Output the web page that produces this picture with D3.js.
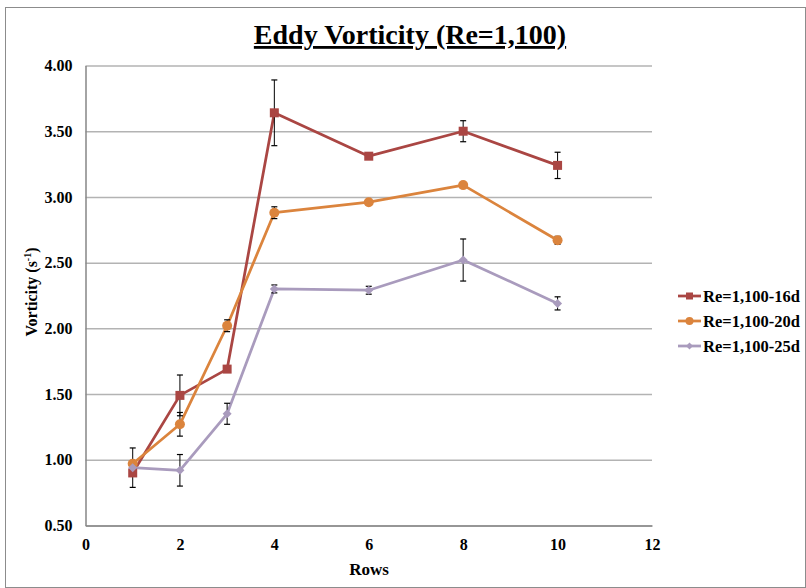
<!DOCTYPE html>
<html>
<head>
<meta charset="utf-8">
<script src="https://cdn.jsdelivr.net/npm/d3@7"></script>
<style>
  html, body { margin: 0; padding: 0; background: #fff; }
  svg { display: block; }
  text { font-family: "Liberation Serif", "Times New Roman", serif; font-weight: bold; fill: #000; }
</style>
</head>
<body>
<svg id="chart" width="806" height="588"></svg>
<script>
const rows = [1, 2, 3, 4, 6, 8, 10];
const seriesNames = ["Re=1,100-16d", "Re=1,100-20d", "Re=1,100-25d"];
const values16 = [0.90, 1.49, 1.69, 3.64, 3.31, 3.50, 3.24];
const values20 = [0.97, 1.27, 2.02, 2.88, 2.96, 3.09, 2.67];
const values25 = [0.94, 0.92, 1.35, 2.30, 2.29, 2.52, 2.19];
const err16 = [0, 0.155, 0, 0.25, 0, 0.08, 0.10];
const err20 = [0, 0.09, 0.045, 0.045, 0, 0, 0.03];
const err25 = [0.15, 0.12, 0.08, 0.03, 0.03, 0.16, 0.05];
const xTicks = [0, 2, 4, 6, 8, 10, 12];
const yTicks = [0.5, 1.0, 1.5, 2.0, 2.5, 3.0, 3.5, 4.0];
const titleText = "Eddy Vorticity (Re=1,100)";
const xLabel = "Rows";
const yLabel = "Vorticity (s";

const colors = ["#AA4643", "#DB843D", "#A99BBD"];
const markers = ["square", "circle", "diamond"];
const allValues = [values16, values20, values25];
const allErr = [err16, err20, err25];

const svg = d3.select("#chart");
const m = { left: 85.5, right: 652, top: 65.5, bottom: 525.5 };
const x = d3.scaleLinear().domain([0, 12]).range([m.left, m.right]);
const y = d3.scaleLinear().domain([0.5, 4.0]).range([m.bottom, m.top]);

// outer chart border
svg.append("rect").attr("x", 5.5).attr("y", 7.5).attr("width", 800).attr("height", 580)
  .attr("fill", "#fff").attr("stroke", "#8c8c8c").attr("stroke-width", 1);

// gridlines
const yAxisGrid = d3.axisLeft(y).tickValues(yTicks).tickSize(-(m.right - m.left)).tickFormat("");
svg.append("g").attr("transform", `translate(${m.left},0)`).call(yAxisGrid)
  .call(g => g.select(".domain").remove())
  .call(g => g.selectAll("line").attr("stroke", "#b3b3b3").attr("stroke-width", 1.5));

// axes
const yAxis = d3.axisLeft(y).tickValues(yTicks).tickSize(0).tickPadding(13).tickFormat(d3.format(".2f"));
svg.append("g").attr("transform", `translate(${m.left},0)`).call(yAxis)
  .call(g => g.select(".domain").attr("stroke", "#868686").attr("stroke-width", 1.5))
  .call(g => g.selectAll("text").style("font-size", "16px").style("font-family", "Liberation Serif").style("font-weight", "bold").attr("fill", "#000"));

const xAxis = d3.axisBottom(x).tickValues(xTicks).tickSize(0).tickPadding(13).tickFormat(d3.format("d"));
svg.append("g").attr("transform", `translate(0,${m.bottom})`).call(xAxis)
  .call(g => g.select(".domain").attr("stroke", "#868686").attr("stroke-width", 1.5))
  .call(g => g.selectAll("text").style("font-size", "16px").style("font-family", "Liberation Serif").style("font-weight", "bold").attr("fill", "#000"));

// title
svg.append("text").attr("x", 410).attr("y", 44).attr("text-anchor", "middle")
  .attr("text-decoration", "underline")
  .style("font-size", "28px").text(titleText);

// axis labels
svg.append("text").attr("x", 369).attr("y", 575).attr("text-anchor", "middle")
  .style("font-size", "17px").text(xLabel);
const yl = svg.append("text").attr("transform", "translate(37,292) rotate(-90)")
  .attr("text-anchor", "middle").style("font-size", "16px");
yl.append("tspan").text(yLabel);
yl.append("tspan").attr("dy", -6).style("font-size", "10px").text("-1");
yl.append("tspan").attr("dy", 6).text(")");

function drawMarker(g, type, cx, cy, color, s) {
  if (type === "square") {
    g.append("rect").attr("x", cx - s).attr("y", cy - s).attr("width", 2 * s).attr("height", 2 * s).attr("fill", color);
  } else if (type === "circle") {
    g.append("circle").attr("cx", cx).attr("cy", cy).attr("r", s + 0.5).attr("fill", color);
  } else {
    const d = s + 0.5;
    g.append("path").attr("d", `M${cx},${cy - d}L${cx + d},${cy}L${cx},${cy + d}L${cx - d},${cy}Z`).attr("fill", color);
  }
}

const line = d3.line().x(d => x(d[0])).y(d => y(d[1]));
const plot = svg.append("g");

allValues.forEach((vals, i) => {
  const pts = rows.map((r, j) => [r, vals[j]]);
  plot.append("path").datum(pts).attr("d", line).attr("fill", "none")
    .attr("stroke", colors[i]).attr("stroke-width", 2.75).attr("stroke-linejoin", "round");
});

allValues.forEach((vals, i) => {
  const g = plot.append("g");
  rows.forEach((r, j) => {
    const e = allErr[i][j];
    if (e > 0) {
      const cx = x(r), y1 = y(vals[j] + e), y2 = y(vals[j] - e);
      g.append("line").attr("x1", cx).attr("x2", cx).attr("y1", y1).attr("y2", y2).attr("stroke", "#000").attr("stroke-width", 1);
      g.append("line").attr("x1", cx - 3).attr("x2", cx + 3).attr("y1", y1).attr("y2", y1).attr("stroke", "#000").attr("stroke-width", 1.2);
      g.append("line").attr("x1", cx - 3).attr("x2", cx + 3).attr("y1", y2).attr("y2", y2).attr("stroke", "#000").attr("stroke-width", 1.2);
    }
  });
});

allValues.forEach((vals, i) => {
  const g = plot.append("g");
  const size = markers[i] === "square" ? 4.5 : (markers[i] === "circle" ? 4.5 : 4);
  rows.forEach((r, j) => drawMarker(g, markers[i], x(r), y(vals[j]), colors[i], size));
});

// legend
const legendY = [296, 321, 346];
seriesNames.forEach((name, i) => {
  const g = svg.append("g");
  const ly = legendY[i];
  g.append("line").attr("x1", 678).attr("x2", 701).attr("y1", ly).attr("y2", ly).attr("stroke", colors[i]).attr("stroke-width", 2.75);
  drawMarker(g, markers[i], 689.5, ly, colors[i], markers[i] === "diamond" ? 3 : 3.5);
  g.append("text").attr("x", 703).attr("y", ly + 5.5).style("font-size", "16.5px").text(name);
});
</script>
</body>
</html>
